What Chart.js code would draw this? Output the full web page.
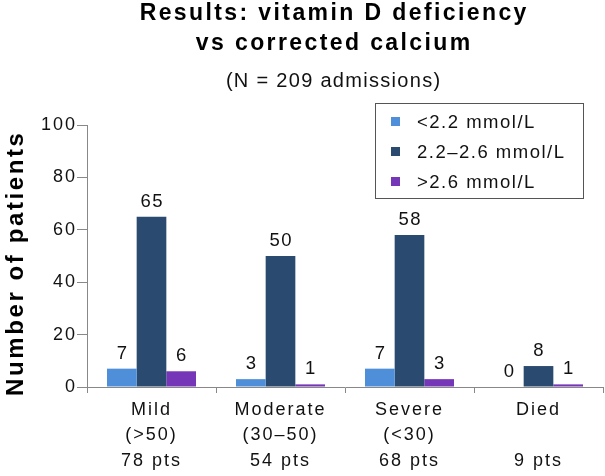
<!DOCTYPE html>
<html>
<head>
<meta charset="utf-8">
<script src="https://cdn.jsdelivr.net/npm/chart.js@4"></script>
<style>
html,body{margin:0;padding:0;background:#fff;}
#wrap{width:605px;height:476px;}
</style>
</head>
<body>
<div id="wrap"><canvas id="c" width="605" height="476"></canvas></div>
<script>
const categories = [["Mild","(>50)","78 pts"],["Moderate","(30\u201350)","54 pts"],["Severe","(<30)","68 pts"],["Died","","9 pts"]];
const seriesNames = ["<2.2 mmol/L","2.2\u20132.6 mmol/L",">2.6 mmol/L"];
const lowCa = [7,3,7,0];
const normalCa = [65,50,58,8];
const highCa = [6,1,3,1];
const yTicks = [0,20,40,60,80,100];
const titleLines = ["Results: vitamin D deficiency","vs corrected calcium"];
const subtitleText = "(N = 209 admissions)";
const yTitle = "Number of patients";
const colors = ["#4f8fd9","#2b4a70","#7536b8"];

const FONT = "'Liberation Sans', Arial, sans-serif";

function spacedText(ctx, text, x, y, spacing){
  ctx.letterSpacing = spacing + "px";
  let sx = x;
  if (ctx.textAlign === 'center') sx = x + spacing/2;
  ctx.fillText(text, sx, y);
}

const spacingPlugin = {
  id:'spacing',
  beforeDraw(chart){ chart.ctx.letterSpacing = "2px"; },
  afterDraw(chart){ chart.ctx.letterSpacing = "0px"; }
};

const labelPlugin = {
  id:'valueLabels',
  afterDatasetsDraw(chart){
    const ctx = chart.ctx;
    ctx.save();
    ctx.font = "18.5px " + FONT;
    ctx.fillStyle = "#111";
    ctx.textAlign = "center";
    ctx.textBaseline = "alphabetic";
    chart.data.datasets.forEach((ds,i)=>{
      const meta = chart.getDatasetMeta(i);
      meta.data.forEach((el,j)=>{
        spacedText(ctx, String(ds.data[j]), el.x, el.y - 10, 1.6);
      });
    });
    ctx.restore();
  }
};

const decorPlugin = {
  id:'decor',
  afterDraw(chart){
    const ctx = chart.ctx;
    ctx.save();
    ctx.fillStyle="#000";
    ctx.textAlign="center";
    ctx.textBaseline="alphabetic";
    ctx.font="bold 23px "+FONT;
    spacedText(ctx, titleLines[0], 333, 19.5, 2.4);
    spacedText(ctx, titleLines[1], 333, 50, 2.4);
    ctx.fillStyle="#111";
    ctx.font="20px "+FONT;
    spacedText(ctx, subtitleText, 333, 87, 1.3);
    ctx.save();
    ctx.translate(23, 264.5);
    ctx.rotate(-Math.PI/2);
    ctx.fillStyle="#000";
    ctx.font="bold 24px "+FONT;
    ctx.textAlign="center";
    spacedText(ctx, yTitle, 0, 0, 2.6);
    ctx.restore();
    const x0=375.5, y0=103.5, w=208, h=95;
    ctx.fillStyle="#fff";
    ctx.fillRect(x0,y0,w,h);
    ctx.strokeStyle="#555";
    ctx.lineWidth=1;
    ctx.strokeRect(x0,y0,w,h);
    ctx.font="18.5px "+FONT;
    ctx.textBaseline="middle";
    ctx.textAlign="left";
    chart.data.datasets.forEach((ds,i)=>{
      const cy = 122 + i*30;
      ctx.fillStyle = ds.backgroundColor;
      ctx.fillRect(391, cy-5, 9, 9);
      ctx.fillStyle="#111";
      spacedText(ctx, ds.label, 417, cy+1, 1.5);
    });
    ctx.restore();
  }
};

new Chart(document.getElementById('c'),{
  type:'bar',
  data:{
    labels:categories,
    datasets:[
      {label:seriesNames[0],data:lowCa,backgroundColor:colors[0]},
      {label:seriesNames[1],data:normalCa,backgroundColor:colors[1]},
      {label:seriesNames[2],data:highCa,backgroundColor:colors[2]}
    ]
  },
  options:{
    responsive:false,
    animation:false,
    layout:{padding:{left:0,right:2,top:125,bottom:0}},
    datasets:{bar:{categoryPercentage:0.69,barPercentage:1}},
    plugins:{
      legend:{display:false},
      tooltip:{enabled:false},
      title:{display:false},
      subtitle:{display:false}
    },
    scales:{
      x:{
        grid:{display:true,drawOnChartArea:false,drawTicks:true,tickLength:6,color:"#888"},
        border:{display:true,color:"#888",width:1},
        ticks:{color:"#111",font:{family:FONT,size:18,lineHeight:1.39},padding:5,maxRotation:0,autoSkip:false},
        afterFit(s){s.height=89;}
      },
      y:{
        min:0,max:100,
        afterBuildTicks(s){s.ticks = yTicks.map(v=>({value:v}));},
        grid:{display:true,drawOnChartArea:false,drawTicks:true,tickLength:10,color:"#888"},
        border:{display:true,color:"#888",width:1},
        ticks:{color:"#111",font:{family:FONT,size:18},padding:0},
        title:{display:false},
        afterFit(s){s.width=87;}
      }
    }
  },
  plugins:[spacingPlugin,labelPlugin,decorPlugin]
});
</script>
</body>
</html>
